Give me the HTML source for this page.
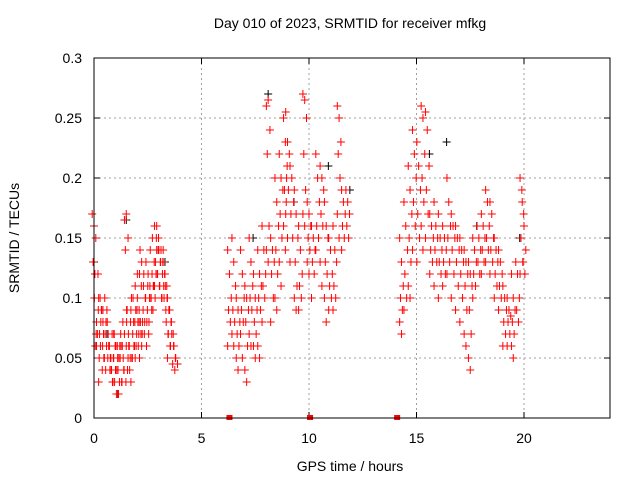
<!DOCTYPE html>
<html><head><meta charset="utf-8"><style>
html,body{margin:0;padding:0;background:#fff}
svg{display:block;font-family:"Liberation Sans",sans-serif}
</style></head><body>
<svg width="640" height="480" viewBox="0 0 640 480" xmlns="http://www.w3.org/2000/svg">
<text x="350" y="28" text-anchor="middle" font-size="14">Day 010 of 2023, SRMTID for receiver mfkg</text>
<text x="0" y="0" transform="translate(19,238) rotate(-90)" text-anchor="middle" font-size="14">SRMTID / TECUs</text>
<text x="350" y="471" text-anchor="middle" font-size="14">GPS time / hours</text>
<g id="grid"></g>
<g id="ticks"></g>
<g id="black"></g>
<g id="red"></g>
<rect x="94" y="58" width="516" height="360" fill="none" stroke="#000" stroke-width="1"/>
</svg>
<script>
const xTicks=[0,5,10,15,20];
const yTicks=[0,0.05,0.1,0.15,0.2,0.25,0.3];
const yTickLabels=["0","0.05","0.1","0.15","0.2","0.25","0.3"];
const gapTimes=[6.3,10.05,14.1];
const redTimes=[0.0,0.1,0.2,0.3,0.4,0.5,0.6,0.7,0.8,0.9,1.0,1.1,1.2,1.3,1.4,1.5,1.6,1.7,1.8,1.9,2.0,2.1,2.2,2.3,2.4,2.5,2.6,2.7,2.8,2.9,3.0,3.1,3.2,3.3,3.4,3.5,3.6,3.7,3.8,
6.3,6.5,6.7,6.9,7.1,7.3,7.5,7.7,7.9,8.1,8.3,8.5,8.7,8.9,9.0,9.2,9.4,9.6,9.8,10.0,10.2,10.4,10.6,10.8,11.0,11.2,11.4,11.6,11.8,
14.3,14.5,14.7,14.9,15.1,15.3,15.5,15.7,15.9,16.1,16.3,16.5,16.7,16.9,17.1,17.3,17.5,17.7,17.9,18.1,18.3,18.5,18.7,18.9,19.1,19.3,19.5,19.7,19.9,20.0];
const redValues=[[.17,.16,.15,.13,.12],[.10,.07,.12,.06],[.06,.09,.10,.07,.05,.08],[.10,.06,.04,.07,.09,.03],[.08,.06,.05,.09,.07],[.08,.10,.06,.05,.04,.09],[.07,.09,.06,.08,.05],[.08,.06,.05,.07,.04],[.06,.04,.03,.05,.07],[.04,.05,.06,.03,.07],[.05,.04,.06,.03,.02,.07],[.06,.05,.03,.04,.02],[.04,.06,.03,.05,.07,.02],[.05,.03,.04,.06,.08],[.06,.04,.03,.05],[.165,.17,.15,.14,.09,.07,.06,.05],[.08,.07,.05,.04,.06,.09],[.06,.08,.05,.04,.10],[.09,.07,.06,.05,.08,.03],[.10,.08,.07,.06,.09],[.11,.09,.07,.06,.08,.05],[.10,.08,.07,.06,.14,.12,.09],[.12,.11,.09,.08,.07,.05],[.13,.11,.10,.08,.07,.06],[.12,.10,.09,.08,.06],[.13,.11,.10,.08,.07],[.12,.11,.09,.08,.10],[.14,.12,.11,.10,.09],[.15,.13,.12,.11,.10],[.16,.15,.14,.13,.12,.11],[.16,.15,.13,.12,.11,.14],[.14,.13,.12,.11,.10],[.14,.13,.12,.10,.11],[.13,.12,.11,.10,.09,.14],[.11,.10,.09,.08,.07],[.10,.09,.08,.07,.06,.05],[.09,.08,.07,.06],[.07,.06,.05,.045],[.06,.05,.045,.04],
[.14,.12,.10,.09,.08,.06],[.15,.13,.11,.09,.08,.07,.06],[.10,.09,.08,.07,.06,.05,.04],[.14,.12,.10,.09,.08,.07,.05],[.11,.10,.09,.08,.06,.04,.03],[.15,.13,.11,.10,.09,.07,.06],[.12,.10,.09,.08,.07,.06,.05],[.14,.12,.11,.10,.09,.06,.05],[.16,.14,.12,.11,.10,.08],[.26,.265,.24,.22,.16,.14,.13],[.15,.14,.13,.12,.10,.08],[.20,.18,.16,.14,.12,.10,.09],[.22,.20,.19,.17,.15,.13,.11],[.25,.23,.21,.19,.18,.16,.14],[.255,.23,.22,.20,.19,.17,.15],[.21,.20,.18,.17,.15,.13],[.19,.17,.15,.13,.11,.10,.09],[.16,.14,.12,.11,.10,.09],[.27,.265,.25,.22,.19,.17,.16],[.18,.17,.16,.15,.14,.13,.12],[.16,.15,.14,.13,.12,.10],[.22,.20,.18,.16,.15,.14],[.21,.20,.19,.17,.16,.13,.11],[.18,.16,.15,.13,.12,.10,.08],[.15,.14,.12,.11,.10,.09],[.16,.14,.13,.11,.10,.09],[.26,.25,.23,.22,.20,.17,.15],[.19,.18,.17,.16,.15,.14],[.19,.18,.17,.16,.15],
[.15,.13,.11,.10,.09,.08,.07],[.18,.16,.14,.12,.10,.09],[.21,.19,.17,.15,.13,.11,.10],[.24,.22,.20,.18,.16,.14],[.23,.21,.19,.17,.15,.13],[.26,.25,.22,.20,.18,.16,.14],[.255,.24,.21,.19,.17,.15],[.17,.16,.15,.14,.13,.12],[.18,.16,.15,.14,.13,.11],[.17,.15,.14,.13,.12,.10],[.16,.15,.14,.13,.12,.11],[.20,.18,.16,.15,.13,.12],[.17,.16,.15,.14,.12,.10],[.16,.15,.14,.13,.11,.09],[.15,.14,.13,.12,.10,.08],[.14,.13,.12,.11,.09,.07,.06],[.13,.12,.11,.09,.07,.05,.04],[.15,.14,.13,.12,.11,.10],[.16,.15,.14,.13,.12],[.17,.16,.15,.14,.13,.12],[.19,.18,.16,.15,.14,.13],[.18,.17,.15,.14,.13,.12],[.15,.14,.13,.12,.11,.10],[.14,.13,.12,.11,.10,.09],[.11,.10,.09,.08,.07,.06],[.10,.09,.085,.08,.07,.06],[.12,.10,.09,.08,.07,.06,.05],[.13,.12,.10,.09,.08],[.20,.19,.17,.15,.13,.12],[.18,.16,.14,.13,.12]];
const blackTimes=[0.0,0.6,1.1,1.5,3.3,7.4,8.1,9.0,9.3,10.9,11.9,15.6,16.4,17.8,19.8];
const blackValues=[.13,.07,.02,.165,.13,.15,.27,.23,.18,.21,.19,.22,.23,.16,.15];

const X=t=>94+t*21.5;
const Y=v=>418-v*1200;
const NS="http://www.w3.org/2000/svg";
const grid=document.getElementById('grid'),ticks=document.getElementById('ticks');
function ln(p,x1,y1,x2,y2,c,dash){const l=document.createElementNS(NS,'line');l.setAttribute('x1',x1);l.setAttribute('y1',y1);l.setAttribute('x2',x2);l.setAttribute('y2',y2);l.setAttribute('stroke',c);l.setAttribute('stroke-width',1);if(dash)l.setAttribute('stroke-dasharray',dash);p.appendChild(l);return l;}
xTicks.forEach(t=>{const x=X(t);
 if(t>0){const g=ln(grid,x,58,x,418,'#a0a0a0','2,3');}
 ln(ticks,x,418,x,412,'#000');ln(ticks,x,58,x,64,'#000');
 const tx=document.createElementNS(NS,'text');tx.setAttribute('x',x);tx.setAttribute('y',443);tx.setAttribute('text-anchor','middle');tx.setAttribute('font-size','14');tx.textContent=String(t);
 
 
 ticks.appendChild(tx);});
yTicks.forEach((v,i)=>{const y=Y(v);
 if(v>0&&v<0.3){const g=ln(grid,94,y,610,y,'#a0a0a0','2,3');}
 ln(ticks,94,y,100,y,'#000');ln(ticks,610,y,604,y,'#000');
 const tx=document.createElementNS(NS,'text');tx.setAttribute('x',82);tx.setAttribute('y',y+5);tx.setAttribute('text-anchor','end');tx.setAttribute('font-size','14');tx.textContent=yTickLabels[i];
 
 
 ticks.appendChild(tx);});
function cross(p,x,y,c,name){const g=document.createElementNS(NS,'path');g.setAttribute('d',`M${x-4},${y}h8M${x},${y-4}v8`);g.setAttribute('stroke',c);g.setAttribute('stroke-width',1);
 
 
 p.appendChild(g);}
const bl=document.getElementById('black'),rd=document.getElementById('red');
blackTimes.forEach((t,i)=>cross(bl,X(t),Y(blackValues[i]),'#000','black-point'));
redTimes.forEach((t,i)=>redValues[i].forEach((v,j)=>cross(rd,X(t)+((j*2)%5-2)*0.9,Y(v),'#ff0000','red-point')));
gapTimes.forEach(t=>{const r=document.createElementNS(NS,'rect');r.setAttribute('x',X(t)-3);r.setAttribute('y',415);r.setAttribute('width',6);r.setAttribute('height',5);r.setAttribute('fill','#ff0000');
 
 
 rd.appendChild(r);});
</script>
</body></html>
